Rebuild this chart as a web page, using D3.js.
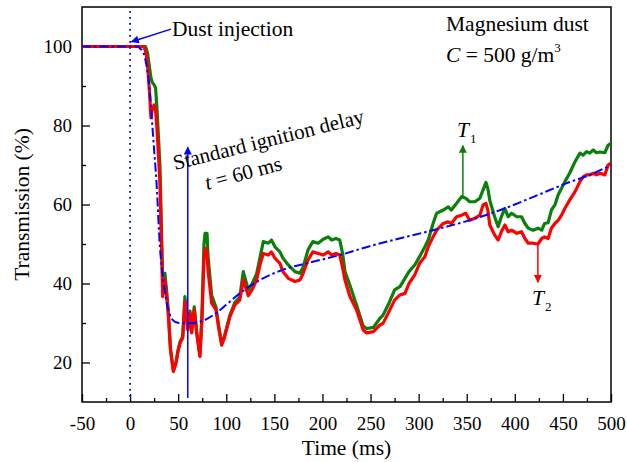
<!DOCTYPE html>
<html>
<head>
<meta charset="utf-8">
<script src="https://cdn.jsdelivr.net/npm/d3@7/dist/d3.min.js"></script>
<style>
  html, body { margin: 0; padding: 0; background: #fff; }
  svg { display: block; }
  text { font-family: "Liberation Serif", "Times New Roman", serif; fill: #000; }
</style>
</head>
<body>
<svg id="chart" width="627" height="462"></svg>
<script>
// ---------- data ----------
const xTicks = [-50, 0, 50, 100, 150, 200, 250, 300, 350, 400, 450, 500];
const yTicks = [20, 40, 60, 80, 100];

// measured time base (ms) shared by T1 and T2
const time = [-50, 10, 14, 16, 18, 20, 21.7, 23, 25, 26.5, 28, 31, 32.8, 33.9, 35, 36.2, 38, 39.7, 42, 45,
  47.7, 50, 52, 54.7, 57, 60, 62.3, 64, 66.7, 69.5, 72.6, 74.7, 76.8, 78, 80, 81, 84.8, 89.3, 92, 95.2,
  98, 103.8, 109, 114, 117.7, 122.9, 127, 131.6, 135, 138.5, 143.7, 147, 150.6, 155.8, 159, 164.5, 171.4, 176.6, 180, 185,
  190, 195.6, 200.8, 206, 209.6, 214, 218, 221, 223.4, 228.6, 235.5, 242.4, 246, 253, 259.8, 263, 268.4, 275, 280.6, 285.8,
  290, 296, 301, 306.5, 310, 315, 318.7, 325.6, 330.8, 334, 339.5, 344.7, 349, 353, 358.5, 363.7, 367, 370, 372, 374,
  379, 382.7, 386, 389.7, 393, 396.7, 402, 407, 410.5, 414, 419, 424, 428, 431, 434.7, 438, 441.7, 445, 448.6, 452,
  457, 462.5, 467.7, 471, 474.6, 478, 481.5, 485, 488.5, 493.6, 497, 500];

// T1 (green) transmission %
const t1 = [100, 100, 100, 100, 98.5, 95, 92, 91, 90.3, 89.5, 84, 70, 52, 40, 42.6, 42.6, 38, 33, 23.5, 18,
  20.1, 23.3, 25.3, 26.6, 36.7, 28.8, 33, 28, 34.1, 27.3, 21.8, 32, 50, 52.7, 52.7, 47, 37, 34, 29.4, 24.8,
  26.6, 32, 35.2, 36.5, 43, 38.4, 40, 42.5, 46.5, 50.6, 50.2, 51, 49.3, 48, 46.4, 44.7, 43, 42.6, 44.2, 48.5,
  50.6, 50.2, 51.2, 51.8, 51, 51.4, 51, 47.5, 43, 39.5, 34.5, 29.2, 28.6, 28.9, 31.2, 32, 34.6, 38.4, 39.2, 41.3,
  43, 44.7, 46.8, 49.3, 51, 55.2, 57.8, 58.6, 59.4, 58.6, 60.3, 62, 61.6, 60.7, 60.7, 61.6, 63.7, 65.6, 64, 61,
  56.9, 54.4, 56.9, 59, 56.9, 57.8, 56.9, 56.9, 55.2, 54, 53.5, 54, 53.5, 55.2, 55.4, 58.6, 59.9, 62.4, 64.1, 65.8,
  67.9, 70.8, 73, 72.5, 73.4, 73, 73.8, 73.1, 73.3, 73.1, 75, 75.5];

// T2 (red) transmission %
const t2 = [100, 100, 100, 99, 96, 89, 82, 84, 85.2, 84, 79, 66, 48.5, 36.7, 38.5, 40.9, 37, 32.5, 23.2, 17.7,
  19.8, 23, 24.9, 26.2, 35.4, 28.2, 32.5, 27.5, 33.3, 27, 21.5, 30.8, 46, 48.9, 48, 43.4, 35, 33.3, 29, 24.4,
  26.2, 31.6, 34.6, 35.8, 40.9, 36.9, 38.5, 40.9, 44.7, 47.6, 47.2, 48, 46.4, 45.1, 43, 41.3, 40.5, 40.9, 42.6, 46,
  48, 47.6, 47.2, 48, 47.2, 47.6, 47.2, 44, 40.9, 36.7, 33.3, 28.2, 27.5, 27.8, 29.5, 29.9, 32.5, 35.8, 37.1, 37.5,
  40, 42.2, 45.1, 46.8, 49.3, 51.8, 53.5, 55.2, 55.6, 55.2, 56.9, 57.3, 57.8, 56, 56.5, 57.3, 59.9, 60.3, 58.5, 54.8,
  52.3, 51, 53.1, 54.8, 53.1, 53.5, 52.7, 53.1, 51.4, 50.2, 50.2, 50, 51.4, 51.8, 51.4, 54, 55.2, 56, 57.3, 59,
  61.1, 63.2, 65.8, 67, 67.5, 67.5, 67.9, 67.5, 67.9, 67.5, 70, 70.5];

// fitted curve (blue dash-dot)
const fitTime = [-50, 8, 10.3, 13.7, 17.2, 20.7, 24, 27.6, 31, 34.5, 39.7, 46.7, 52, 58.8, 65, 72.7,
  86.5, 100, 114, 135, 163, 190, 218, 250, 280, 315, 350, 385, 420, 454, 480, 500];
const fitValue = [100, 100, 99.5, 98.5, 95, 88, 77, 65, 49.3, 41, 33.3, 30.3, 30.0, 29.9, 30.0, 30.3,
  32, 34.6, 37.5, 40.9, 43.8, 45.5, 47.2, 49.5, 51.4, 53.5, 55.8, 58.6, 62, 65.4, 67.7, 70];

const injectionTime = 0;
const ignitionDelay = 60;

// ---------- drawing ----------
const svg = d3.select("#chart");
const L = 82, R = 611, T = 7, B = 402;
const FONT = "Liberation Serif, Times New Roman, serif";
const x = d3.scaleLinear().domain([-50, 500]).range([L, R]);
const y = d3.scaleLinear().domain([10, 110]).range([B, T]);

const defs = svg.append("defs");
function marker(id, color, w, h) {
  defs.append("marker").attr("id", id).attr("viewBox", "0 0 10 10")
    .attr("refX", 9).attr("refY", 5).attr("markerWidth", w).attr("markerHeight", h)
    .attr("markerUnits", "userSpaceOnUse").attr("orient", "auto")
    .append("path").attr("d", "M0,0 L10,5 L0,10 Z").attr("fill", color);
}
marker("arrBlue", "#0000ff", 14, 8);
marker("arrGreen", "#0a800a", 14, 8);
marker("arrRed", "#ff0000", 14, 8);

const clip = defs.append("clipPath").attr("id", "plotClip");
clip.append("rect").attr("x", L).attr("y", T).attr("width", R - L).attr("height", B - T);

// axes (ticks inward)
const xMinor = d3.range(-25, 500, 50);
const yMinor = [30, 50, 70, 90];

const gx = svg.append("g").attr("transform", `translate(0,${B})`)
  .call(d3.axisBottom(x).tickValues(xTicks).tickSizeInner(-8).tickSizeOuter(0).tickPadding(15).tickFormat(d => String(d)));
svg.append("g").attr("transform", `translate(0,${B})`)
  .call(d3.axisBottom(x).tickValues(xMinor).tickSizeInner(-4).tickSizeOuter(0).tickFormat(""));
const gy = svg.append("g").attr("transform", `translate(${L},0)`)
  .call(d3.axisLeft(y).tickValues(yTicks).tickSizeInner(-8).tickSizeOuter(0).tickPadding(10).tickFormat(d => String(d)));
svg.append("g").attr("transform", `translate(${L},0)`)
  .call(d3.axisLeft(y).tickValues(yMinor).tickSizeInner(-4).tickSizeOuter(0).tickFormat(""));

svg.selectAll(".domain").remove();
svg.selectAll("g").attr("font-family", FONT);
svg.selectAll(".tick line").attr("stroke", "#000").attr("stroke-width", 1.3);
svg.selectAll(".tick text").attr("font-size", 19).attr("font-family", FONT).attr("fill", "#000");

// frame
svg.append("rect").attr("x", L).attr("y", T).attr("width", R - L).attr("height", B - T)
  .attr("fill", "none").attr("stroke", "#000").attr("stroke-width", 1.5);

// axis titles
svg.append("text").attr("x", (L + R) / 2).attr("y", 455).attr("text-anchor", "middle")
  .attr("font-size", 21.5).text("Time (ms)");
svg.append("text").attr("transform", `translate(29,${(T + B) / 2}) rotate(-90)`).attr("text-anchor", "middle")
  .attr("font-size", 21.5).text("Transmission (%)");

const plot = svg.append("g").attr("clip-path", "url(#plotClip)");

// dust injection dotted line
plot.append("line").attr("x1", x(injectionTime)).attr("x2", x(injectionTime))
  .attr("y1", y(109)).attr("y2", y(10.5))
  .attr("stroke", "#0000ff").attr("stroke-width", 1.8).attr("stroke-dasharray", "1.8,4.2");

const lineGen = d3.line().x(d => x(d[0])).y(d => y(d[1]));

plot.append("path").datum(time.map((t, i) => [t, t1[i]]))
  .attr("d", lineGen).attr("fill", "none").attr("stroke", "#0a800a").attr("stroke-width", 3.2)
  .attr("stroke-linejoin", "round");
plot.append("path").datum(time.map((t, i) => [t, t2[i]]))
  .attr("d", lineGen).attr("fill", "none").attr("stroke", "#ff0000").attr("stroke-width", 3.2)
  .attr("stroke-linejoin", "round");
plot.append("path").datum(fitTime.map((t, i) => [t, fitValue[i]]))
  .attr("d", d3.line().x(d => x(d[0])).y(d => y(d[1])).curve(d3.curveMonotoneX))
  .attr("fill", "none").attr("stroke", "#0000ff").attr("stroke-width", 2)
  .attr("stroke-dasharray", "9,3,2.5,3");

// ignition delay arrow
svg.append("line").attr("x1", x(ignitionDelay)).attr("x2", x(ignitionDelay))
  .attr("y1", y(11)).attr("y2", y(74.5))
  .attr("stroke", "#0000ff").attr("stroke-width", 1.5).attr("marker-end", "url(#arrBlue)");

// dust injection arrow
svg.append("line").attr("x1", x(42.5)).attr("y1", y(104.4)).attr("x2", x(1.5)).attr("y2", y(101.2))
  .attr("stroke", "#0000ff").attr("stroke-width", 1.5).attr("marker-end", "url(#arrBlue)");
svg.append("text").attr("x", 172).attr("y", 36).attr("font-size", 21.5).text("Dust injection");

// T1 arrow
svg.append("line").attr("x1", x(346)).attr("x2", x(346)).attr("y1", y(62)).attr("y2", y(74.9))
  .attr("stroke", "#0a800a").attr("stroke-width", 1.5).attr("marker-end", "url(#arrGreen)");
const t1Label = svg.append("text").attr("x", 457).attr("y", 137).attr("font-size", 21.5);
t1Label.append("tspan").attr("font-style", "italic").text("T");
t1Label.append("tspan").attr("font-size", 13).attr("dy", 6).attr("dx", 1).text("1");

// T2 arrow
svg.append("line").attr("x1", x(424)).attr("x2", x(424)).attr("y1", y(49.8)).attr("y2", y(40.3))
  .attr("stroke", "#ff0000").attr("stroke-width", 1.5).attr("marker-end", "url(#arrRed)");
const t2Label = svg.append("text").attr("x", 532).attr("y", 305).attr("font-size", 21.5);
t2Label.append("tspan").attr("font-style", "italic").text("T");
t2Label.append("tspan").attr("font-size", 13).attr("dy", 6).attr("dx", 1).text("2");

// rotated annotation
svg.append("text").attr("transform", "translate(175,170) rotate(-14)")
  .attr("font-size", 21).text("Standard ignition delay");
const tl = svg.append("text").attr("transform", "translate(207,190) rotate(-15)").attr("font-size", 21);
tl.append("tspan").attr("font-style", "italic").text("t");
tl.append("tspan").text(" = 60 ms");

// sample description
svg.append("text").attr("x", 446).attr("y", 31).attr("font-size", 21.5).text("Magnesium dust");
const ct = svg.append("text").attr("x", 446).attr("y", 62).attr("font-size", 21.5);
ct.append("tspan").attr("font-style", "italic").text("C");
ct.append("tspan").text(" = 500 g/m");
ct.append("tspan").attr("font-size", 13).attr("dy", -10).text("3");
</script>
</body>
</html>
